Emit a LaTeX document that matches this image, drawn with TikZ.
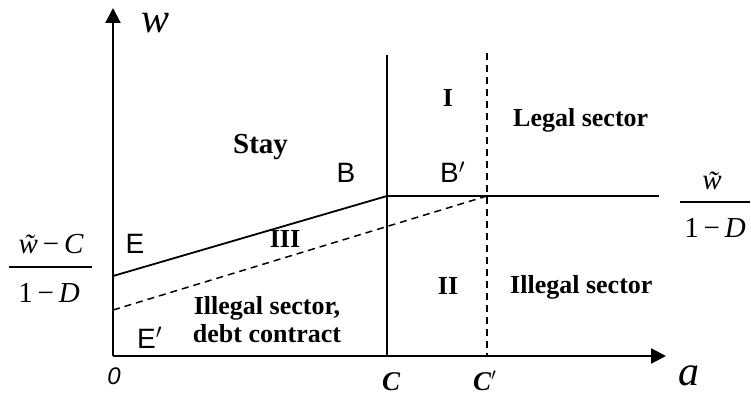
\documentclass[tikz,border=0pt]{standalone}
\usepackage{fontspec}
\setmainfont{Liberation Serif}
\newfontfamily\sansf{Liberation Sans}
\usetikzlibrary{arrows.meta}
\tikzset{
  axis/.style={line width=2.2pt,-{Triangle[length=15pt,width=15pt]}},
  solidln/.style={line width=1.8pt},
  dashln/.style={line width=1.5pt,dash pattern=on 7pt off 5pt},
  fracbar/.style={line width=1.3pt},
  boldlbl/.style={font=\fontsize{26}{29}\selectfont\bfseries,inner sep=0pt},
  staylbl/.style={font=\fontsize{29}{32}\selectfont\bfseries,inner sep=0pt},
  sanslbl/.style={font=\fontsize{28}{31}\selectfont\sansf,inner sep=0pt},
  mathlbl/.style={font=\fontsize{29}{32}\selectfont,inner sep=0pt},
  biglbl/.style={font=\fontsize{42}{46}\selectfont\itshape,inner sep=0pt},
  ticklbl/.style={font=\fontsize{27}{30}\selectfont\bfseries\itshape,inner sep=0pt},
}
\begin{document}
\begin{tikzpicture}[x=1pt,y=-1pt]
\useasboundingbox (0,0) rectangle (751,395);
\coordinate (O) at (113,356);
\coordinate (ytop) at (113,8);
\coordinate (xend) at (666,356);
\coordinate (Ctop) at (387,55);
\coordinate (Cbot) at (387,356);
\coordinate (Cptop) at (487,53);
\coordinate (Cpbot) at (487,356);
\coordinate (Bp) at (387,196);
\coordinate (Bpp) at (487,196);
\coordinate (Rend) at (659,196);
\coordinate (Ep) at (113,276);
\coordinate (Epp) at (113,310);
\draw[axis] (O) -- (ytop);
\draw[axis] (O) -- (xend);
\draw[solidln] (Ctop) -- (Cbot);
\draw[dashln] (Cptop) -- (Cpbot);
\draw[solidln] (Bp) -- (Rend);
\draw[solidln] (Ep) -- (Bp);
\draw[dashln] (Epp) -- (Bpp);
% axis labels
\node[biglbl,anchor=base] (wl) at (156,33) {w};
\node[biglbl,anchor=base] (al) at (689,385) {a};
\node[ticklbl,anchor=base] (Cl) at (391,390) {C};
\node[ticklbl,anchor=base west] (Cpl) at (473,390) {C$'$};
\node[font=\fontsize{24}{28}\selectfont\sansf\itshape,inner sep=0pt,anchor=base] (zero) at (114,384) {0};
% region labels
\node[staylbl,anchor=base west] (stay) at (233,154) {Stay};
\node[boldlbl,anchor=base] (I) at (448,107) {I};
\node[boldlbl,anchor=base west] (legal) at (513,127) {Legal sector};
\node[boldlbl,anchor=base] (III) at (285,247) {III};
\node[boldlbl,anchor=base] (II) at (448,294) {II};
\node[boldlbl,anchor=base west] (illegal) at (510,293) {Illegal sector};
\node[boldlbl,anchor=base] (debt1) at (267,314) {Illegal sector,};
\node[boldlbl,anchor=base] (debt2) at (267,342) {debt contract};
% point labels
\node[sanslbl,anchor=base] (B) at (346,183) {B};
\node[sanslbl,anchor=base west] (Bq) at (440,183) {B$'$};
\node[sanslbl,anchor=base] (E) at (135,253) {E};
\node[sanslbl,anchor=base west] (Eq) at (137,348) {E$'$};
% left fraction
\node[mathlbl,anchor=base] (fln) at (51,253) {\itshape\~w\,\normalfont−\,\itshape C};
\node[mathlbl,anchor=base] (fld) at (49,302) {1\,\normalfont−\,\itshape D};
\coordinate (flbL) at (9,267);
\coordinate (flbR) at (92,267);
\draw[fracbar] (flbL) -- (flbR);
% right fraction
\node[mathlbl,anchor=base] (frn) at (712,190) {\itshape\~w};
\node[mathlbl,anchor=base] (frd) at (715,237) {1\,\normalfont−\,\itshape D};
\coordinate (frbL) at (680,202);
\coordinate (frbR) at (750,202);
\draw[fracbar] (frbL) -- (frbR);
\end{tikzpicture}
\end{document}
